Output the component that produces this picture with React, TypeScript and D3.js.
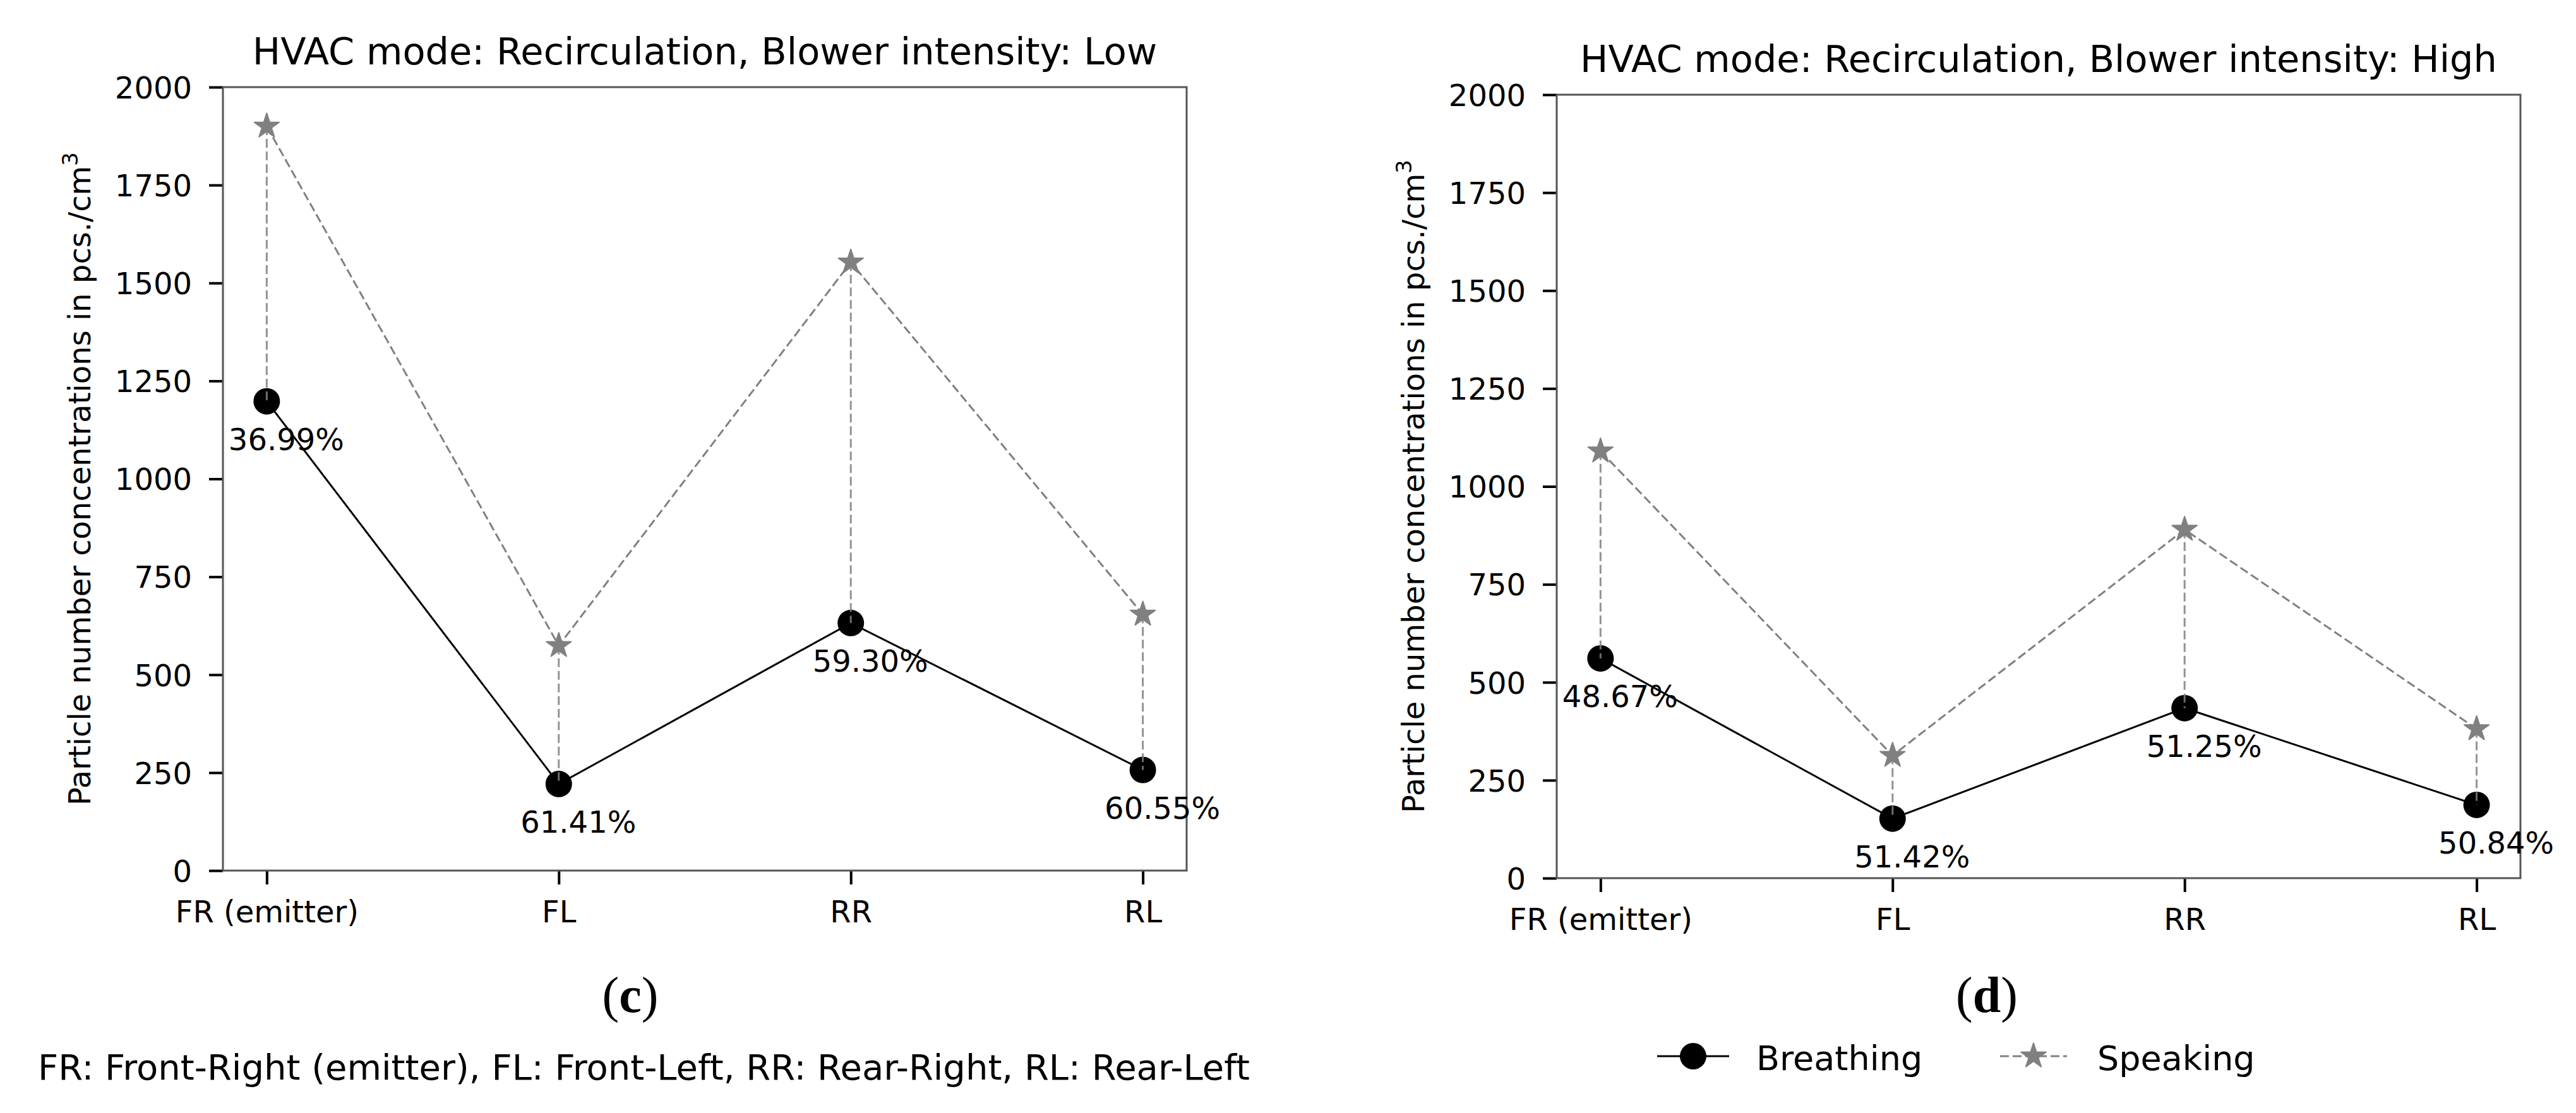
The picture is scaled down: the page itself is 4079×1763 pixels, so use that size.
import * as React from 'react';
import * as d3 from 'd3';
import { useRef, useEffect } from 'react';

// Categories and tick values
const categories = ['FR (emitter)', 'FL', 'RR', 'RL'];
const yTicks = [0, 250, 500, 750, 1000, 1250, 1500, 1750, 2000];

// Panel (c): blower intensity low
const breathingLow = [1198, 221, 632, 257];
const speakingLow = [1900, 574, 1553, 654];
const reductionLow = ['36.99%', '61.41%', '59.30%', '60.55%'];

// Panel (d): blower intensity high
const breathingHigh = [561, 152, 434, 187];
const speakingHigh = [1090, 313, 890, 381];
const reductionHigh = ['48.67%', '51.42%', '51.25%', '50.84%'];

const titles = [
    'HVAC mode: Recirculation, Blower intensity: Low',
    'HVAC mode: Recirculation, Blower intensity: High',
];
const captions = ['c', 'd'];
const legendLabels = ['Breathing', 'Speaking'];
const yLabel = 'Particle number concentrations in pcs./cm';
const footnote = 'FR: Front-Right (emitter), FL: Front-Left, RR: Rear-Right, RL: Rear-Left';

const FONT = 'DejaVu Sans, sans-serif';
const SERIF = 'Liberation Serif, Times New Roman, serif';
const GREY = '#808080';

// plot area size
const W = 1526;
const H = 1241;

const starPath = d3.symbol().type(d3.symbolStar).size(480)();

type PanelProps = {
    left: number,
    top: number,
    title: string,
    breathing: number[],
    speaking: number[],
    labels: string[],
}

const Panel = (props: PanelProps) => {
    const xAxisRef = useRef<SVGGElement>(null);
    const yAxisRef = useRef<SVGGElement>(null);
    const { left, top, breathing, speaking, labels } = props;

    const x = d3.scalePoint<string>().domain(categories).range([0, W]).padding(0.15);
    const y = d3.scaleLinear().domain([0, 2000]).range([H, 0]);

    const line = d3.line<number>()
        .x((_, i) => x(categories[i])!)
        .y(d => y(d));

    useEffect(() => {
        const gx = d3.select(xAxisRef.current!);
        gx.call(d3.axisBottom(x).tickSize(22).tickPadding(26));
        gx.attr('font-size', 48).attr('font-family', FONT);
        gx.select('.domain').remove();
        gx.selectAll('.tick line').attr('stroke', '#000').attr('stroke-width', 4);
        gx.selectAll('.tick text').attr('fill', '#000');

        const gy = d3.select(yAxisRef.current!);
        gy.call(d3.axisLeft(y).tickValues(yTicks).tickFormat(d3.format('d')).tickSize(22).tickPadding(27));
        gy.attr('font-size', 48).attr('font-family', FONT);
        gy.select('.domain').remove();
        gy.selectAll('.tick line').attr('stroke', '#000').attr('stroke-width', 4);
        gy.selectAll('.tick text').attr('fill', '#000').attr('dy', '0.36em');
    }, []);

    return (
        <g transform={`translate(${left},${top})`}>
            <text x={W / 2} y={-36} textAnchor="middle" fontSize={59} fontFamily={FONT}>{props.title}</text>
            <text transform={`translate(-210,${H / 2}) rotate(-90)`} textAnchor="middle" fontSize={48} fontFamily={FONT}>
                {yLabel}<tspan fontSize={34} dy={-20}>3</tspan>
            </text>
            <g ref={xAxisRef} transform={`translate(0,${H})`} />
            <g ref={yAxisRef} />
            <rect x={0} y={0} width={W} height={H} fill="none" stroke="#555" strokeWidth={3} />

            {/* breathing */}
            <path d={line(breathing)!} fill="none" stroke="#000" strokeWidth={3} />
            {breathing.map((d, i) => (
                <circle key={'b' + i} cx={x(categories[i])} cy={y(d)} r={21} fill="#000" />
            ))}

            {/* speaking */}
            <path d={line(speaking)!} fill="none" stroke={GREY} strokeWidth={3} strokeDasharray="14,6" />
            {speaking.map((d, i) => (
                <path key={'s' + i} d={starPath!} transform={`translate(${x(categories[i])},${y(d)})`}
                    fill={GREY} stroke={GREY} strokeWidth={2} strokeLinejoin="round" />
            ))}

            {/* connectors between speaking and breathing */}
            {speaking.map((d, i) => (
                <line key={'v' + i} x1={x(categories[i])} x2={x(categories[i])} y1={y(d)} y2={y(breathing[i])}
                    stroke={GREY} strokeOpacity={0.85} strokeWidth={3} strokeDasharray="14,6" />
            ))}

            {labels.map((t, i) => (
                <text key={'t' + i} x={x(categories[i])! + 31} y={y(breathing[i]) + 77} textAnchor="middle"
                    fontSize={48} fontFamily={FONT}>{t}</text>
            ))}
        </g>
    );
}

export default function App() {
    return (
        <svg width={4079} height={1763} style={{ position: 'absolute', left: 0, top: 0, background: '#fff' }}>
            <rect width={4079} height={1763} fill="#fff" />
            <Panel left={353} top={138} title={titles[0]} breathing={breathingLow} speaking={speakingLow} labels={reductionLow} />
            <Panel left={2465} top={150} title={titles[1]} breathing={breathingHigh} speaking={speakingHigh} labels={reductionHigh} />

            {/* sub-figure captions */}
            {captions.map((c, i) => (
                <text key={c} x={i === 0 ? 998 : 3146} y={1603} textAnchor="middle" fontSize={80} fontFamily={SERIF}>
                    (<tspan fontWeight="bold">{c}</tspan>)
                </text>
            ))}

            <text x={60} y={1710} fontSize={56} fontFamily={FONT}>{footnote}</text>

            {/* legend */}
            <g>
                <line x1={2624} x2={2738} y1={1673} y2={1673} stroke="#000" strokeWidth={3} />
                <circle cx={2681} cy={1673} r={21} fill="#000" />
                <text x={2781} y={1695} fontSize={54} fontFamily={FONT}>{legendLabels[0]}</text>
                <line x1={3167} x2={3273} y1={1673} y2={1673} stroke={GREY} strokeWidth={3} strokeDasharray="14,6" />
                <path d={starPath!} transform="translate(3220,1673)" fill={GREY} stroke={GREY} strokeWidth={2} strokeLinejoin="round" />
                <text x={3321} y={1695} fontSize={54} fontFamily={FONT}>{legendLabels[1]}</text>
            </g>
        </svg>
    );
}
